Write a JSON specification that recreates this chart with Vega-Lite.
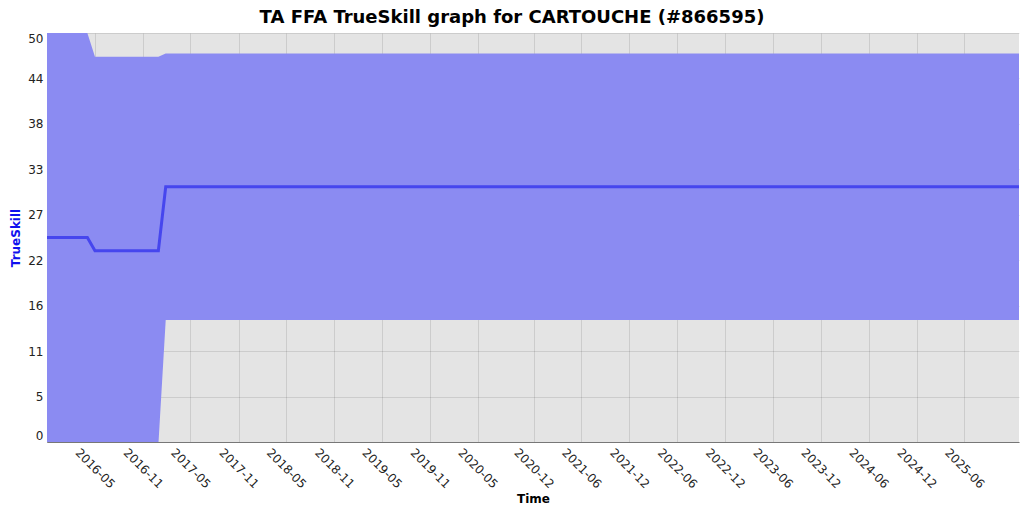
{
  "$schema": "https://vega.github.io/schema/vega-lite/v6.json",
  "width": 972,
  "height": 409,
  "autosize": {"type": "none"},
  "padding": {"left": 47, "top": 33, "right": 5, "bottom": 70},
  "background": "white",
  "title": {
    "text": "TA FFA TrueSkill graph for CARTOUCHE (#866595)",
    "font": "DejaVu Sans",
    "fontSize": 18,
    "fontWeight": "bold",
    "color": "black",
    "anchor": "middle",
    "dx": -21,
    "offset": 5
  },
  "config": {
    "view": {"fill": "#e4e4e4", "stroke": null},
    "axis": {
      "labelFont": "DejaVu Sans",
      "labelFontSize": 12,
      "labelColor": "#222222",
      "titleFont": "DejaVu Sans",
      "titleFontSize": 12,
      "titleFontWeight": "bold",
      "grid": true,
      "gridColor": "black",
      "gridOpacity": 0.1,
      "gridWidth": 1,
      "domainColor": "#777777",
      "domainWidth": 1,
      "ticks": false,
      "zindex": 1
    }
  },
  "data": {
    "values": [
      {"date": "2015-11-01", "mu": 25.0, "lo": 0.0, "hi": 50.0},
      {"date": "2016-04-03", "mu": 25.0, "lo": 0.0, "hi": 50.0},
      {"date": "2016-05-02", "mu": 23.39, "lo": -0.32, "hi": 47.1},
      {"date": "2016-12-30", "mu": 23.39, "lo": -0.32, "hi": 47.1},
      {"date": "2017-01-27", "mu": 31.2, "lo": 14.9, "hi": 47.5},
      {"date": "2025-12-27", "mu": 31.2, "lo": 14.9, "hi": 47.5}
    ]
  },
  "encoding": {
    "x": {
      "field": "date",
      "type": "temporal",
      "scale": {
        "type": "utc",
        "nice": false,
        "domain": [
          {"year": 2015, "month": 11, "date": 1, "utc": true},
          {"year": 2025, "month": 12, "date": 27, "utc": true}
        ]
      },
      "axis": {
        "title": "Time",
        "titleColor": "black",
        "titlePadding": 4,
        "labelExpr": "utcFormat(datum.value, '%Y-%m')",
        "labelAngle": 45,
        "labelAlign": "center",
        "labelBaseline": "middle",
        "labelPadding": 26,
        "labelOverlap": false,
        "labelFlush": false,
        "values": [
          {"year": 2016, "month": 5, "date": 1, "utc": true},
          {"year": 2016, "month": 11, "date": 1, "utc": true},
          {"year": 2017, "month": 5, "date": 1, "utc": true},
          {"year": 2017, "month": 11, "date": 1, "utc": true},
          {"year": 2018, "month": 5, "date": 1, "utc": true},
          {"year": 2018, "month": 11, "date": 1, "utc": true},
          {"year": 2019, "month": 5, "date": 1, "utc": true},
          {"year": 2019, "month": 11, "date": 1, "utc": true},
          {"year": 2020, "month": 5, "date": 1, "utc": true},
          {"year": 2020, "month": 12, "date": 1, "utc": true},
          {"year": 2021, "month": 6, "date": 1, "utc": true},
          {"year": 2021, "month": 12, "date": 1, "utc": true},
          {"year": 2022, "month": 6, "date": 1, "utc": true},
          {"year": 2022, "month": 12, "date": 1, "utc": true},
          {"year": 2023, "month": 6, "date": 1, "utc": true},
          {"year": 2023, "month": 12, "date": 1, "utc": true},
          {"year": 2024, "month": 6, "date": 1, "utc": true},
          {"year": 2024, "month": 12, "date": 1, "utc": true},
          {"year": 2025, "month": 6, "date": 1, "utc": true}
        ]
      }
    }
  },
  "layer": [
    {
      "mark": {"type": "area", "color": "#8b8bf2", "opacity": 1, "clip": true},
      "encoding": {
        "y": {
          "field": "hi",
          "type": "quantitative",
          "scale": {"domain": [0, 50], "nice": false, "zero": false},
          "axis": {
            "title": "TrueSkill",
            "titleColor": "#1010ee",
            "titlePadding": 5,
            "labelPadding": 4,
            "labelFlush": true,
            "labelExpr": "floor(datum.value + 0.0001)",
            "values": [0, 5.5556, 11.1111, 16.6667, 22.2222, 27.7778, 33.3333, 38.8889, 44.4444, 50]
          }
        },
        "y2": {"field": "lo"}
      }
    },
    {
      "mark": {"type": "line", "color": "#4646ee", "strokeWidth": 3, "clip": true},
      "encoding": {
        "y": {"field": "mu", "type": "quantitative"}
      }
    }
  ]
}
